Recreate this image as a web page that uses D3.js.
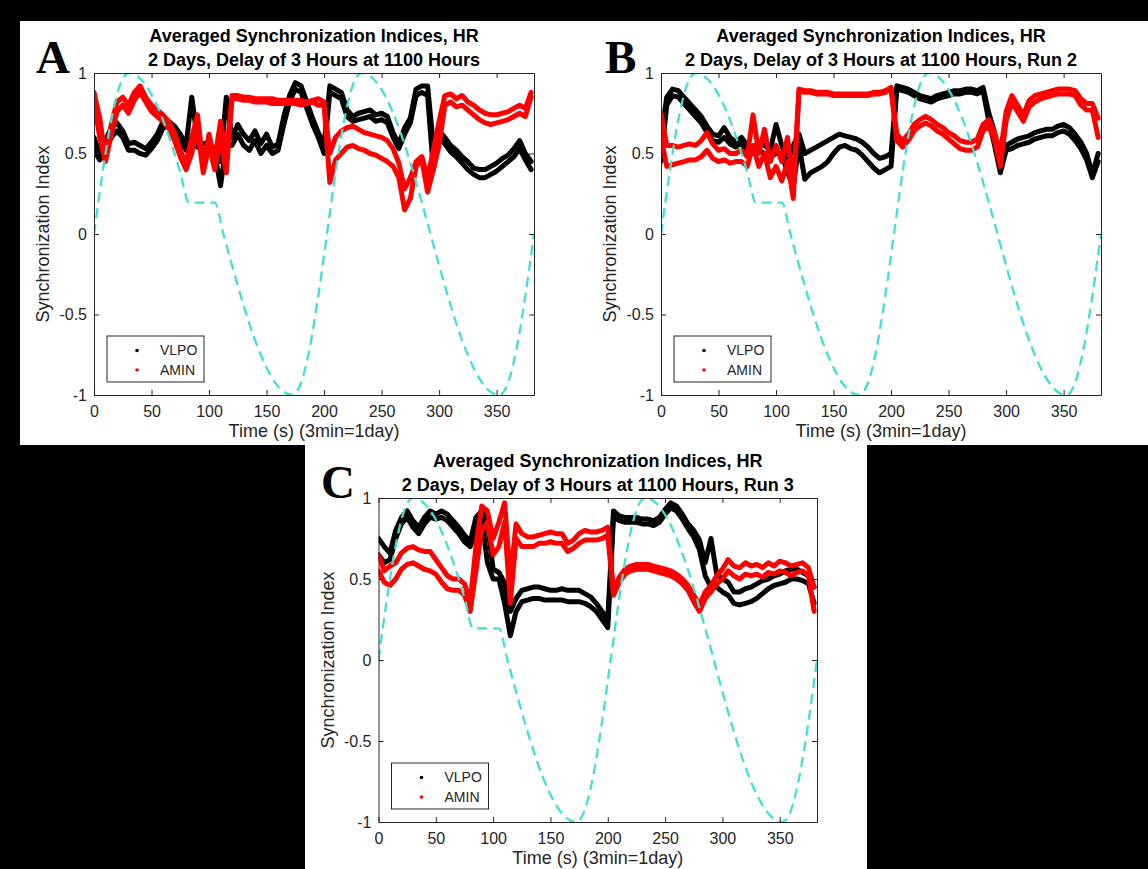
<!DOCTYPE html>
<html>
<head>
<meta charset="utf-8">
<script src="https://cdn.jsdelivr.net/npm/d3@7"></script>
<style>
	html, body { margin: 0; padding: 0; background: #000; }
	svg { display: block; font-family: "Liberation Sans", Arial, sans-serif; }
</style>
</head>
<body>
<svg id="fig" width="1148" height="869"></svg>
<script>
// sampling grid (s) shared by every trace
const time = [
	0, 5, 10, 15, 20, 25, 30, 35, 40, 45, 50, 55, 60, 65, 70, 75,
	80, 85, 90, 95, 100, 105, 110, 115, 120, 125, 130, 135, 140, 145, 150, 155,
	160, 165, 170, 175, 180, 185, 190, 195, 200, 205, 210, 215, 220, 225, 230, 235,
	240, 245, 250, 255, 260, 265, 270, 275, 280, 285, 290, 295, 300, 305, 310, 315,
	320, 325, 330, 335, 340, 345, 350, 355, 360, 365, 370, 375, 380,
]

// Panel A
const aVlpo1 = [
	0.60, 0.50, 0.58, 0.66, 0.69, 0.64, 0.56, 0.57, 0.55, 0.53, 0.57, 0.62, 0.70, 0.70, 0.67, 0.62,
	0.55, 0.85, 0.58, 0.56, 0.57, 0.52, 0.45, 0.85, 0.60, 0.68, 0.62, 0.58, 0.64, 0.56, 0.62, 0.54,
	0.56, 0.73, 0.86, 0.94, 0.92, 0.82, 0.72, 0.63, 0.55, 0.92, 0.90, 0.88, 0.77, 0.73, 0.75, 0.76,
	0.77, 0.74, 0.75, 0.73, 0.63, 0.56, 0.66, 0.72, 0.90, 0.92, 0.92, 0.55, 0.64, 0.60, 0.55, 0.52,
	0.48, 0.45, 0.41, 0.40, 0.40, 0.42, 0.44, 0.47, 0.49, 0.53, 0.58, 0.50, 0.45,
]
const aVlpo2 = [
	0.52, 0.46, 0.52, 0.60, 0.64, 0.60, 0.52, 0.52, 0.50, 0.49, 0.53, 0.58, 0.66, 0.67, 0.63, 0.58,
	0.52, 0.60, 0.54, 0.52, 0.53, 0.50, 0.30, 0.55, 0.55, 0.62, 0.55, 0.52, 0.58, 0.50, 0.55, 0.50,
	0.52, 0.68, 0.82, 0.90, 0.88, 0.78, 0.68, 0.60, 0.50, 0.88, 0.86, 0.84, 0.73, 0.70, 0.71, 0.72,
	0.73, 0.70, 0.71, 0.69, 0.60, 0.53, 0.62, 0.69, 0.86, 0.88, 0.86, 0.40, 0.60, 0.56, 0.51, 0.48,
	0.44, 0.40, 0.37, 0.35, 0.35, 0.37, 0.39, 0.42, 0.45, 0.48, 0.53, 0.46, 0.40,
]
const aAmin1 = [
	0.88, 0.72, 0.47, 0.68, 0.82, 0.85, 0.80, 0.88, 0.92, 0.85, 0.80, 0.77, 0.74, 0.70, 0.63, 0.52,
	0.44, 0.60, 0.74, 0.42, 0.62, 0.46, 0.70, 0.48, 0.86, 0.86, 0.85, 0.85, 0.84, 0.84, 0.84, 0.84,
	0.83, 0.83, 0.83, 0.83, 0.83, 0.82, 0.83, 0.84, 0.82, 0.50, 0.60, 0.64, 0.66, 0.67, 0.65, 0.63,
	0.62, 0.61, 0.60, 0.58, 0.53, 0.44, 0.28, 0.35, 0.45, 0.48, 0.35, 0.52, 0.70, 0.86, 0.87, 0.84,
	0.86, 0.82, 0.80, 0.77, 0.75, 0.74, 0.74, 0.75, 0.76, 0.78, 0.80, 0.78, 0.88,
]
const aAmin2 = [
	0.82, 0.60, 0.45, 0.62, 0.76, 0.80, 0.75, 0.83, 0.88, 0.82, 0.76, 0.73, 0.70, 0.66, 0.58, 0.48,
	0.40, 0.50, 0.65, 0.38, 0.55, 0.40, 0.60, 0.38, 0.84, 0.84, 0.83, 0.83, 0.82, 0.82, 0.82, 0.81,
	0.81, 0.81, 0.81, 0.81, 0.80, 0.81, 0.82, 0.80, 0.80, 0.32, 0.46, 0.50, 0.54, 0.55, 0.53, 0.52,
	0.50, 0.49, 0.47, 0.45, 0.42, 0.35, 0.15, 0.22, 0.42, 0.46, 0.26, 0.40, 0.55, 0.80, 0.82, 0.79,
	0.80, 0.77, 0.74, 0.71, 0.69, 0.68, 0.69, 0.70, 0.71, 0.73, 0.75, 0.73, 0.85,
]

// Panel B
const bVlpo1 = [
	0.60, 0.85, 0.90, 0.89, 0.85, 0.81, 0.77, 0.73, 0.67, 0.62, 0.61, 0.66, 0.60, 0.57, 0.60, 0.55,
	0.53, 0.57, 0.55, 0.52, 0.68, 0.55, 0.45, 0.55, 0.62, 0.50, 0.52, 0.54, 0.56, 0.58, 0.60, 0.62,
	0.61, 0.60, 0.59, 0.57, 0.54, 0.50, 0.47, 0.48, 0.50, 0.92, 0.91, 0.90, 0.88, 0.86, 0.85, 0.84,
	0.86, 0.87, 0.88, 0.89, 0.89, 0.90, 0.90, 0.89, 0.91, 0.75, 0.63, 0.42, 0.55, 0.57, 0.59, 0.60,
	0.61, 0.63, 0.64, 0.65, 0.65, 0.67, 0.68, 0.66, 0.62, 0.57, 0.50, 0.37, 0.50,
]
const bVlpo2 = [
	0.45, 0.80, 0.86, 0.85, 0.81, 0.77, 0.73, 0.69, 0.63, 0.58, 0.57, 0.60, 0.56, 0.54, 0.56, 0.52,
	0.50, 0.52, 0.50, 0.48, 0.50, 0.50, 0.38, 0.30, 0.55, 0.34, 0.38, 0.40, 0.42, 0.45, 0.50, 0.54,
	0.55, 0.53, 0.52, 0.49, 0.45, 0.41, 0.38, 0.40, 0.42, 0.90, 0.89, 0.88, 0.86, 0.84, 0.83, 0.82,
	0.84, 0.85, 0.86, 0.87, 0.87, 0.88, 0.88, 0.87, 0.89, 0.70, 0.55, 0.38, 0.52, 0.53, 0.55, 0.56,
	0.57, 0.59, 0.60, 0.61, 0.61, 0.63, 0.64, 0.62, 0.58, 0.53, 0.46, 0.35, 0.45,
]
const bAmin1 = [
	0.75, 0.55, 0.55, 0.54, 0.55, 0.56, 0.55, 0.58, 0.63, 0.56, 0.52, 0.53, 0.50, 0.50, 0.52, 0.48,
	0.74, 0.50, 0.65, 0.45, 0.55, 0.45, 0.60, 0.30, 0.90, 0.89, 0.89, 0.88, 0.88, 0.88, 0.87, 0.87,
	0.87, 0.87, 0.87, 0.87, 0.87, 0.88, 0.88, 0.89, 0.91, 0.62, 0.58, 0.62, 0.68, 0.71, 0.73, 0.71,
	0.68, 0.66, 0.63, 0.61, 0.58, 0.57, 0.57, 0.59, 0.68, 0.71, 0.63, 0.50, 0.76, 0.86, 0.80, 0.74,
	0.83, 0.86, 0.87, 0.88, 0.89, 0.90, 0.90, 0.90, 0.89, 0.84, 0.81, 0.81, 0.72,
]
const bAmin2 = [
	0.60, 0.42, 0.43, 0.44, 0.45, 0.46, 0.46, 0.48, 0.52, 0.47, 0.45, 0.46, 0.44, 0.45, 0.45, 0.42,
	0.55, 0.42, 0.50, 0.35, 0.42, 0.33, 0.45, 0.22, 0.89, 0.88, 0.88, 0.87, 0.87, 0.87, 0.86, 0.86,
	0.86, 0.86, 0.86, 0.86, 0.86, 0.87, 0.87, 0.88, 0.90, 0.58, 0.54, 0.58, 0.64, 0.67, 0.69, 0.67,
	0.64, 0.62, 0.59, 0.56, 0.53, 0.52, 0.52, 0.54, 0.64, 0.67, 0.58, 0.42, 0.70, 0.82, 0.76, 0.70,
	0.79, 0.82, 0.84, 0.85, 0.86, 0.87, 0.87, 0.87, 0.86, 0.80, 0.77, 0.77, 0.60,
]

// Panel C
const cVlpo1 = [
	0.75, 0.70, 0.66, 0.80, 0.88, 0.92, 0.86, 0.82, 0.88, 0.92, 0.90, 0.92, 0.90, 0.86, 0.82, 0.77,
	0.73, 0.88, 0.92, 0.85, 0.56, 0.54, 0.48, 0.30, 0.38, 0.43, 0.44, 0.45, 0.45, 0.44, 0.43, 0.43,
	0.44, 0.43, 0.43, 0.43, 0.41, 0.39, 0.35, 0.30, 0.25, 0.92, 0.89, 0.88, 0.88, 0.88, 0.87, 0.87,
	0.86, 0.88, 0.93, 0.97, 0.95, 0.90, 0.84, 0.80, 0.74, 0.60, 0.75, 0.53, 0.50, 0.48, 0.42, 0.42,
	0.44, 0.45, 0.47, 0.49, 0.50, 0.52, 0.53, 0.55, 0.56, 0.56, 0.54, 0.52, 0.45,
]
const cVlpo2 = [
	0.65, 0.60, 0.62, 0.75, 0.84, 0.88, 0.82, 0.78, 0.84, 0.88, 0.87, 0.88, 0.86, 0.82, 0.78, 0.73,
	0.70, 0.80, 0.88, 0.60, 0.50, 0.50, 0.35, 0.15, 0.30, 0.36, 0.37, 0.38, 0.38, 0.37, 0.37, 0.37,
	0.37, 0.36, 0.36, 0.36, 0.35, 0.33, 0.30, 0.25, 0.20, 0.88, 0.86, 0.85, 0.85, 0.85, 0.84, 0.84,
	0.83, 0.85, 0.90, 0.94, 0.92, 0.87, 0.81, 0.76, 0.68, 0.52, 0.45, 0.45, 0.42, 0.40, 0.35, 0.34,
	0.35, 0.36, 0.38, 0.41, 0.44, 0.46, 0.47, 0.48, 0.50, 0.50, 0.49, 0.47, 0.35,
]
const cAmin1 = [
	0.65, 0.55, 0.58, 0.60, 0.66, 0.69, 0.70, 0.68, 0.67, 0.67, 0.62, 0.57, 0.52, 0.50, 0.50, 0.47,
	0.36, 0.70, 0.95, 0.92, 0.75, 0.85, 0.97, 0.50, 0.84, 0.78, 0.76, 0.76, 0.77, 0.78, 0.79, 0.78,
	0.78, 0.72, 0.74, 0.78, 0.80, 0.79, 0.79, 0.80, 0.82, 0.43, 0.51, 0.56, 0.58, 0.59, 0.59, 0.59,
	0.58, 0.57, 0.56, 0.55, 0.53, 0.50, 0.46, 0.40, 0.34, 0.42, 0.46, 0.52, 0.56, 0.62, 0.58, 0.57,
	0.60, 0.58, 0.59, 0.57, 0.60, 0.58, 0.61, 0.60, 0.58, 0.59, 0.60, 0.57, 0.45,
]
const cAmin2 = [
	0.55, 0.48, 0.46, 0.50, 0.56, 0.59, 0.60, 0.58, 0.56, 0.55, 0.53, 0.48, 0.44, 0.43, 0.43, 0.40,
	0.30, 0.55, 0.80, 0.85, 0.65, 0.70, 0.85, 0.35, 0.75, 0.70, 0.70, 0.70, 0.72, 0.72, 0.73, 0.72,
	0.72, 0.67, 0.69, 0.72, 0.74, 0.74, 0.74, 0.75, 0.77, 0.40, 0.48, 0.53, 0.55, 0.56, 0.56, 0.56,
	0.55, 0.54, 0.53, 0.52, 0.50, 0.47, 0.43, 0.36, 0.30, 0.38, 0.42, 0.47, 0.50, 0.55, 0.52, 0.50,
	0.53, 0.52, 0.53, 0.51, 0.54, 0.53, 0.55, 0.54, 0.52, 0.54, 0.55, 0.52, 0.30,
]

// light signal (dashed), read hourly: 7.5 s = 1 hour
const lightTime = [
	0, 7.5, 15, 22.5, 30, 37.5, 45, 52.5, 60, 67.5, 75, 82.5, 90, 97.5, 105, 112.5,
	120, 127.5, 135, 142.5, 150, 157.5, 165, 172.5, 180, 187.5, 195, 202.5, 210, 217.5, 225, 232.5,
	240, 247.5, 255, 262.5, 270, 277.5, 285, 292.5, 300, 307.5, 315, 322.5, 330, 337.5, 345, 352.5,
	360, 367.5, 375, 382.5,
]
const lightValue = [
	0, 0.383, 0.707, 0.924, 1, 0.981, 0.924, 0.831, 0.707, 0.556, 0.383, 0.195, 0.195, 0.195, 0.195, 0,
	-0.195, -0.383, -0.556, -0.707, -0.831, -0.924, -0.981, -1, -0.924, -0.707, -0.383, 0, 0.383, 0.707, 0.924, 1,
	0.981, 0.924, 0.831, 0.707, 0.556, 0.383, 0.195, 0, -0.195, -0.383, -0.556, -0.707, -0.831, -0.924, -0.981, -1,
	-0.924, -0.707, -0.383, 0,
]

const xTicks = [0, 50, 100, 150, 200, 250, 300, 350]
const yTicks = [-1, -0.5, 0, 0.5, 1]
const seriesNames = ["VLPO", "AMIN"]
const titleLine1 = "Averaged Synchronization Indices, HR"
const titleLine2 = [
	"2 Days, Delay of 3 Hours at 1100 Hours",
	"2 Days, Delay of 3 Hours at 1100 Hours, Run 2",
	"2 Days, Delay of 3 Hours at 1100 Hours, Run 3",
]
const panelLetters = ["A", "B", "C"]

const config = {
	xMax: 382.5,
	axisColour: "#262626",
	lightColour: "#40e0d0",
	vlpoColour: "#000",
	aminColour: "#ff0000",
	traceWidth: 5,
	tickFont: 16,
	labelFont: 18,
	legendFont: 14,
	// axes boxes
	layout: [
		{ left: 94, top: 73, width: 440, height: 322, letterX: 36 },
		{ left: 661, top: 73, width: 440, height: 322, letterX: 605 },
		{ left: 378.5, top: 498, width: 438.5, height: 324, letterX: 321 },
	],
}

const traces = [
	{ vlpo: [aVlpo1, aVlpo2], amin: [aAmin1, aAmin2] },
	{ vlpo: [bVlpo1, bVlpo2], amin: [bAmin1, bAmin2] },
	{ vlpo: [cVlpo1, cVlpo2], amin: [cAmin1, cAmin2] },
]

const svg = d3.select("#fig")

// black page with white panels
svg.append("rect").attr("width", 1148).attr("height", 869).attr("fill", "#000")
svg.append("rect").attr("x", 20).attr("y", 21).attr("width", 1128).attr("height", 424).attr("fill", "#fff")
svg.append("rect").attr("x", 305).attr("y", 445).attr("width", 562).attr("height", 424).attr("fill", "#fff")

config.layout.forEach((box, i) => drawPanel(i, box, traces[i]))

function drawPanel(i, box, data) {
	const g = svg.append("g").attr("class", "panel")
	const right = box.left + box.width
	const bottom = box.top + box.height
	const cx = box.left + box.width / 2

	const x = d3.scaleLinear().domain([0, config.xMax]).range([box.left, right])
	const y = d3.scaleLinear().domain([-1, 1]).range([bottom, box.top])

	g.append("clipPath")
		.attr("id", `clip${i}`)
		.append("rect")
		.attr("x", box.left).attr("y", box.top)
		.attr("width", box.width).attr("height", box.height)

	const plot = g.append("g").attr("clip-path", `url(#clip${i})`)

	const line = d3.line()
		.x((d, k) => x(time[k]))
		.y(d => y(d))

	// VLPO first, AMIN on top
	const drawTraces = (list, colour) => {
		plot.selectAll(null)
			.data(list)
			.join("path")
			.attr("d", line)
			.attr("fill", "none")
			.attr("stroke", colour)
			.attr("stroke-width", config.traceWidth)
			.attr("stroke-linejoin", "round")
			.attr("stroke-linecap", "round")
	}
	drawTraces(data.vlpo, config.vlpoColour)
	drawTraces(data.amin, config.aminColour)

	const lightLine = d3.line()
		.x((d, k) => x(lightTime[k]))
		.y(d => y(d))
		.curve(d3.curveMonotoneX)
	plot.append("path")
		.attr("d", lightLine(lightValue))
		.attr("fill", "none")
		.attr("stroke", config.lightColour)
		.attr("stroke-width", 2.3)
		.attr("stroke-dasharray", "10,6")

	// axes, ticks inside, box on
	const styleAxis = sel => {
		sel.selectAll("path.domain").attr("stroke", config.axisColour)
		sel.selectAll(".tick line").attr("stroke", config.axisColour)
		sel.selectAll(".tick text")
			.attr("fill", config.axisColour)
			.style("font-size", `${config.tickFont}px`)
			.style("font-family", "'Liberation Sans', Arial, sans-serif")
	}
	g.append("g")
		.attr("transform", `translate(0,${bottom})`)
		.call(d3.axisBottom(x).tickValues(xTicks).tickSize(-5).tickSizeOuter(0).tickPadding(11).tickFormat(d => String(d)))
		.call(styleAxis)
	g.append("g")
		.attr("transform", `translate(0,${box.top})`)
		.call(d3.axisTop(x).tickValues(xTicks).tickSize(-5).tickSizeOuter(0).tickFormat(""))
		.call(styleAxis)
	g.append("g")
		.attr("transform", `translate(${box.left},0)`)
		.call(d3.axisLeft(y).tickValues(yTicks).tickSize(-5).tickSizeOuter(0).tickPadding(7).tickFormat(d => String(d)))
		.call(styleAxis)
	g.append("g")
		.attr("transform", `translate(${right},0)`)
		.call(d3.axisRight(y).tickValues(yTicks).tickSize(-5).tickSizeOuter(0).tickFormat(""))
		.call(styleAxis)

	// axis labels
	g.append("text")
		.text("Time (s) (3min=1day)")
		.attr("x", cx).attr("y", bottom + 42)
		.attr("text-anchor", "middle")
		.attr("fill", config.axisColour)
		.style("font-size", `${config.labelFont}px`)
	g.append("text")
		.text("Synchronization Index")
		.attr("transform", `translate(${box.left - 45},${(box.top + bottom) / 2}) rotate(-90)`)
		.attr("text-anchor", "middle")
		.attr("fill", config.axisColour)
		.style("font-size", `${config.labelFont}px`)

	// title
	g.append("text")
		.text(titleLine1)
		.attr("x", cx).attr("y", box.top - 31)
		.attr("text-anchor", "middle")
		.style("font-weight", "bold")
		.style("font-size", "18px")
	g.append("text")
		.text(titleLine2[i])
		.attr("x", cx).attr("y", box.top - 7)
		.attr("text-anchor", "middle")
		.style("font-weight", "bold")
		.style("font-size", "18px")

	// panel letter
	g.append("text")
		.text(panelLetters[i])
		.attr("x", box.letterX).attr("y", box.top)
		.style("font-family", "'Liberation Serif', 'Times New Roman', serif")
		.style("font-weight", "bold")
		.style("font-size", "47px")

	// legend
	const lg = g.append("g").attr("transform", `translate(${box.left + 13},${bottom - 59})`)
	lg.append("rect")
		.attr("width", 97).attr("height", 46)
		.attr("fill", "#fff")
		.attr("stroke", config.axisColour)
		.attr("stroke-width", 1)
	const rows = lg.selectAll("g.entry")
		.data(seriesNames)
		.join("g")
		.attr("class", "entry")
		.attr("transform", (d, k) => `translate(0,${14.5 + k * 19.5})`)
	rows.append("circle")
		.attr("cx", 30).attr("r", 1.8)
		.attr("fill", (d, k) => k ? config.aminColour : config.vlpoColour)
	rows.append("text")
		.text(d => d)
		.attr("x", 53)
		.attr("dy", "0.35em")
		.attr("fill", config.axisColour)
		.style("font-size", `${config.legendFont}px`)
}
</script>
</body>
</html>
